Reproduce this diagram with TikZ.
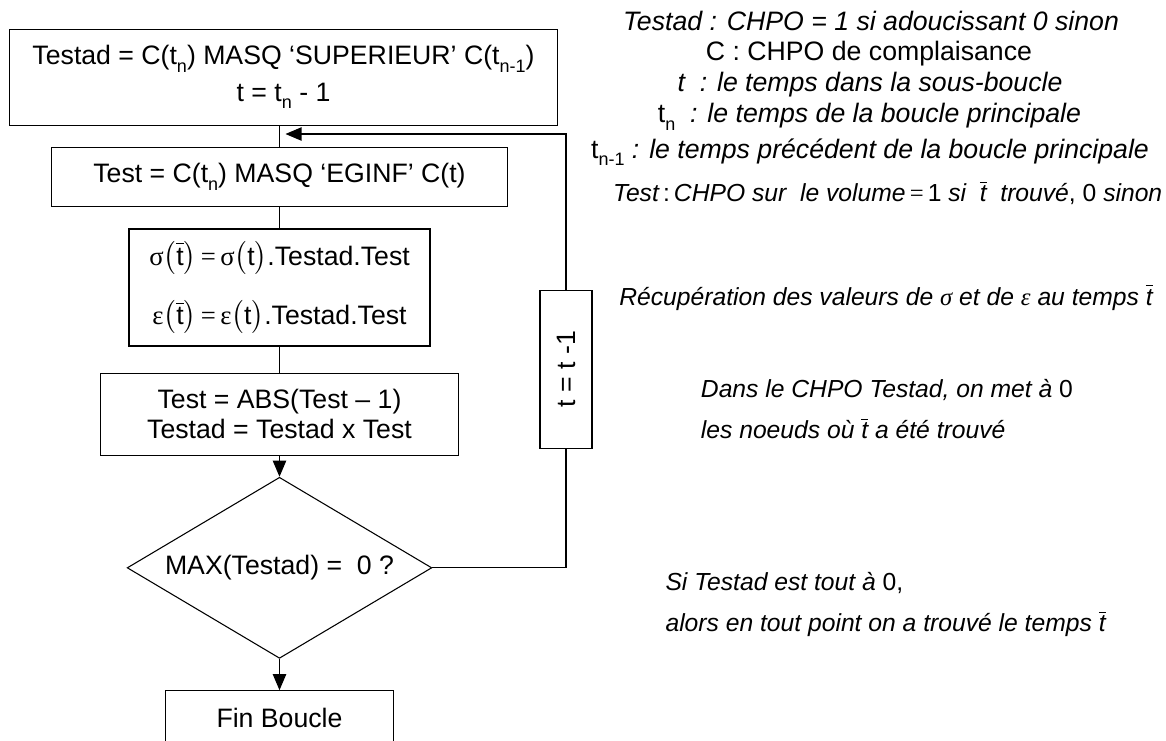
\documentclass[tikz,border=0pt]{standalone}
\usepackage{amsmath}
\usepackage{exscale}
\usepackage{fontspec}
\setmainfont{Liberation Sans}
\newfontfamily\grk{Liberation Serif}
\usetikzlibrary{shapes.geometric,arrows.meta}
\newcommand\sbs[1]{\raisebox{-5.5pt}{\fontsize{13.5}{13.5}\selectfont #1}}
\newcommand\tbar{\ensuremath{\overline{\mbox{t}}}}
\begin{document}
\begin{tikzpicture}[x=0.75pt,y=-0.75pt,
  font=\fontsize{20}{24}\selectfont,
  line width=0.8pt,
  box/.style={draw, line width=0.8pt, inner sep=0pt, align=center},
  note/.style={inner sep=0pt, anchor=base},
  lnote/.style={inner sep=0pt, anchor=base west, font=\fontsize{18.5}{22}\selectfont},
  arr/.style={-{Triangle[length=12pt,width=10pt]}}]
\useasboundingbox (0,0) rectangle (1166,740);

% flowchart boxes
\node[box, minimum width=411pt, minimum height=71.8pt] (top) at (283.5,77.2)
  {Testad = C(t\sbs{n}) MASQ ‘SUPERIEUR’ C(t\sbs{n-1})\\[3.5pt] t = t\sbs{n} - 1};
\node[box, minimum width=342.2pt, minimum height=43.7pt] (test) at (279.5,176.9)
  {Test = C(t\sbs{n}) MASQ ‘EGINF’ C(t)};
\node[box, line width=1.6pt, minimum width=225.9pt, minimum height=87.5pt] (sig) at (279.5,287.7)
  {{\grk σ}$\bigl($\tbar$\bigr)${\grk\,=\,σ}$\bigl($t$\bigr)$.Testad.Test\\[18.5pt]
   {\grk ε}$\bigl($\tbar$\bigr)${\grk\,=\,ε}$\bigl($t$\bigr)$.Testad.Test};
\node[box, minimum width=268.6pt, minimum height=61.3pt] (abs) at (279.5,414.2)
  {Test = ABS(Test – 1)\\[-1.5pt] Testad = Testad x Test};
\node[draw, shape=diamond, inner sep=0pt, minimum width=228.5pt, minimum height=135.8pt] (dia) at (279.5,567.8)
  {\makebox[0pt]{MAX(Testad) =\ \ 0 ?}};
\node[box, minimum width=171.3pt, minimum height=40.2pt] (fin) at (279.5,717.5)
  {Fin Boucle};
\node[box, rotate=90, minimum width=118.7pt, minimum height=39pt] (tt) at (566,369.2)
  {t = t -1};
\coordinate (join) at (285.5,134);

% connectors
\draw (top.south -| test.north) -- (test.north);
\draw (test.south) -- (sig.north);
\draw (sig.south) -- (abs.north);
\draw[arr] (abs.south) -- (dia.north);
\draw[arr] (dia.south) -- (fin.north);
\draw (dia.east) -| (tt.west);
\draw[arr] (tt.east) |- (join);

% explanations
\node[note] (n1) at (871,30.7) {\itshape Testad : CHPO = 1 si adoucissant 0 sinon};
\node[note] (n2) at (869,60) {C : CHPO de complaisance};
\node[note] (n3) at (870,91.7) {\itshape t\ \ : le temps dans la sous-boucle};
\node[note] (n4) at (869.5,122.7) {t\sbs{n}\ \ {\itshape : le temps de la boucle principale}};
\node[note] (n5) at (870,158.3) {t\sbs{n-1} {\itshape : le temps précédent de la boucle principale}};
\node[note, font=\fontsize{18.5}{22}\selectfont] (n6) at (887.7,201.7) {{\itshape Test}\,:\,{\itshape CHPO sur\ \ le volume}{\grk\,=\,}1 {\itshape si\ \ \tbar\ \ trouvé}, 0 {\itshape sinon}};
\node[note, font=\fontsize{18.5}{22}\selectfont] (n7) at (886,305) {\itshape Récupération des valeurs de {\grk σ} et de {\grk ε} au temps \tbar};
\node[lnote] (n8) at (700.4,397.3) {{\itshape Dans le CHPO Testad, on met à} 0};
\node[lnote] (n9) at (700.4,438.3) {\itshape les noeuds où \tbar\ a été trouvé};
\node[lnote] (n10) at (665,590.7) {{\itshape Si Testad est tout à} 0,};
\node[lnote] (n11) at (665,631.7) {\itshape alors en tout point on a trouvé le temps \tbar};
\end{tikzpicture}
\end{document}
